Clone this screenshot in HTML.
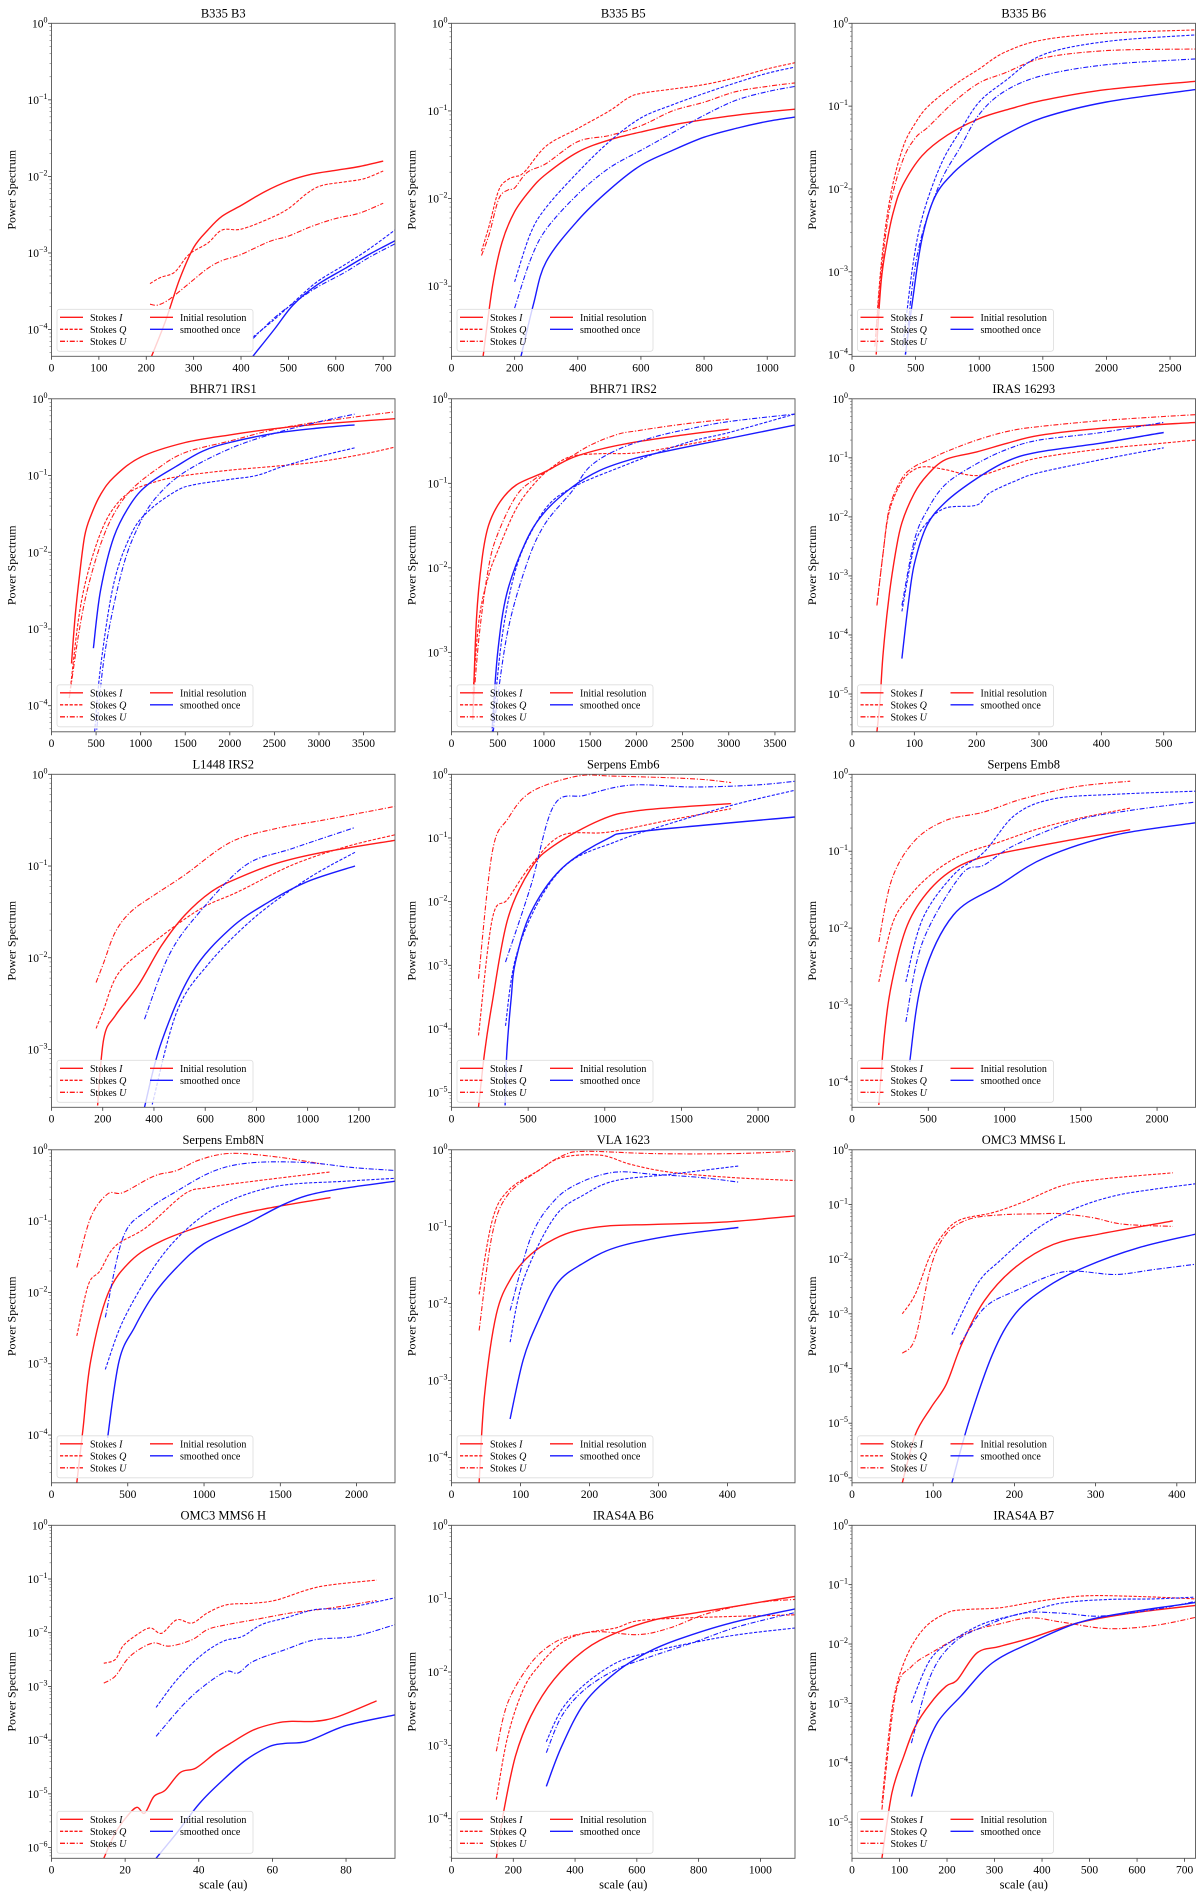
<!DOCTYPE html>
<html><head><meta charset="utf-8"><title>Power spectra</title>
<style>
html,body{margin:0;padding:0;background:#fff;}
svg{display:block;font-family:"Liberation Serif",serif;}
</style></head>
<body>
<svg id="fig" xmlns="http://www.w3.org/2000/svg" width="1200" height="1897" viewBox="0 0 1200 1897"></svg>
<script>
// ---- data: [scale (au), log10 power] ----
const titles = ["B335 B3","B335 B5","B335 B6","BHR71 IRS1","BHR71 IRS2","IRAS 16293","L1448 IRS2","Serpens Emb6","Serpens Emb8","Serpens Emb8N","VLA 1623","OMC3 MMS6 L","OMC3 MMS6 H","IRAS4A B6","IRAS4A B7"];
const xMaxes = [725,1088,2700,3853,3717,551,1341,2241,2252,2252,498,423,93.3,1112,723];
const yMinExp = [-4.35,-3.8,-4.02,-4.34,-3.94,-5.64,-3.63,-5.23,-4.33,-4.67,-4.33,-6.09,-6.2,-4.54,-5.61];
const xTickSteps = [100,200,500,500,500,100,200,500,500,500,100,100,20,200,100];

const p0_I=[[208,-4.4],[240,-3.9],[270,-3.35],[300,-2.93],[330,-2.7],[360,-2.52],[400,-2.38],[450,-2.2],[500,-2.06],[550,-1.97],[600,-1.92],[650,-1.87],[700,-1.8]];
const p0_Q=[[208,-3.4],[230,-3.32],[260,-3.25],[290,-3.02],[330,-2.87],[360,-2.7],[400,-2.69],[460,-2.55],[500,-2.42],[540,-2.22],[570,-2.12],[620,-2.07],[660,-2.03],[700,-1.93]];
const p0_U=[[208,-3.67],[225,-3.68],[250,-3.6],[290,-3.4],[330,-3.2],[360,-3.1],[400,-3.02],[460,-2.85],[500,-2.78],[550,-2.65],[600,-2.55],[650,-2.48],[700,-2.35]];
const p0_sI=[[425,-4.35],[470,-4.0],[510,-3.68],[560,-3.42],[620,-3.2],[670,-3.02],[725,-2.84]];
const p0_sQ=[[425,-4.1],[470,-3.87],[510,-3.65],[560,-3.38],[620,-3.15],[670,-2.95],[725,-2.7]];
const p0_sU=[[425,-4.12],[470,-3.85],[510,-3.66],[560,-3.45],[620,-3.25],[670,-3.06],[725,-2.88]];

const p1_I=[[100,-3.8],[130,-3.0],[160,-2.5],[200,-2.15],[250,-1.9],[300,-1.72],[400,-1.47],[500,-1.33],[600,-1.24],[700,-1.16],[800,-1.1],[900,-1.05],[1000,-1.01],[1088,-0.98]];
const p1_Q=[[95,-2.6],[120,-2.3],[150,-1.9],[180,-1.78],[200,-1.75],[230,-1.7],[300,-1.4],[400,-1.2],[500,-1.0],[560,-0.85],[600,-0.8],[700,-0.75],[800,-0.7],[900,-0.62],[1000,-0.52],[1088,-0.45]];
const p1_U=[[95,-2.65],[120,-2.4],[150,-2.0],[180,-1.9],[200,-1.88],[240,-1.7],[300,-1.6],[400,-1.35],[500,-1.28],[600,-1.17],[700,-1.0],[800,-0.9],[900,-0.78],[1000,-0.72],[1088,-0.68]];
const p1_sI=[[220,-3.8],[260,-3.2],[300,-2.72],[400,-2.25],[500,-1.9],[600,-1.62],[700,-1.45],[800,-1.3],[900,-1.2],[1000,-1.12],[1088,-1.07]];
const p1_sQ=[[200,-2.95],[250,-2.4],[300,-2.1],[400,-1.7],[500,-1.35],[600,-1.08],[700,-0.93],[800,-0.8],[900,-0.68],[1000,-0.57],[1088,-0.5]];
const p1_sU=[[200,-3.25],[250,-2.7],[300,-2.35],[400,-1.95],[500,-1.65],[600,-1.45],[700,-1.25],[800,-1.05],[900,-0.88],[1000,-0.78],[1088,-0.72]];

const p2_I=[[190,-4.0],[230,-3.1],[280,-2.6],[330,-2.25],[400,-1.95],[550,-1.6],[750,-1.35],[1000,-1.15],[1250,-1.03],[1500,-0.93],[2000,-0.8],[2700,-0.7]];
const p2_Q=[[180,-3.9],[230,-2.9],[300,-2.1],[400,-1.5],[500,-1.2],[600,-1.0],[800,-0.75],[1000,-0.55],[1200,-0.35],[1500,-0.2],[2000,-0.12],[2700,-0.08]];
const p2_U=[[180,-3.9],[230,-3.0],[300,-2.2],[400,-1.65],[500,-1.38],[600,-1.25],[800,-0.95],[1000,-0.72],[1200,-0.6],[1500,-0.42],[2000,-0.33],[2700,-0.31]];
const p2_sI=[[420,-4.0],[480,-3.3],[550,-2.6],[650,-2.1],[800,-1.8],[1000,-1.55],[1200,-1.35],[1500,-1.14],[2000,-0.95],[2700,-0.8]];
const p2_sQ=[[400,-3.9],[480,-2.9],[560,-2.3],[700,-1.7],[850,-1.3],[1000,-0.95],[1200,-0.7],[1500,-0.38],[2000,-0.22],[2700,-0.14]];
const p2_sU=[[420,-4.0],[480,-3.1],[560,-2.5],[700,-1.9],[850,-1.5],[1000,-1.1],[1200,-0.82],[1500,-0.63],[2000,-0.5],[2700,-0.43]];

const p3_I=[[224,-3.45],[260,-2.9],[300,-2.45],[370,-1.8],[450,-1.5],[550,-1.25],[700,-1.02],[1000,-0.76],[1500,-0.57],[2000,-0.47],[2500,-0.39],[3000,-0.33],[3853,-0.26]];
const p3_Q=[[200,-3.9],[300,-2.9],[400,-2.3],[550,-1.75],[700,-1.42],[900,-1.2],[1200,-1.07],[1500,-1.0],[2000,-0.93],[2500,-0.88],[3000,-0.82],[3500,-0.72],[3853,-0.63]];
const p3_U=[[200,-3.9],[300,-3.1],[400,-2.5],[550,-1.9],[700,-1.5],[900,-1.18],[1200,-0.9],[1500,-0.7],[2000,-0.55],[2500,-0.4],[3000,-0.3],[3853,-0.17]];
const p3_sI=[[470,-3.25],[550,-2.5],[700,-1.8],[900,-1.35],[1100,-1.1],[1400,-0.88],[1700,-0.68],[2000,-0.57],[2500,-0.45],[3000,-0.38],[3400,-0.34]];
const p3_sQ=[[480,-4.4],[550,-3.5],[700,-2.4],[900,-1.75],[1100,-1.45],[1400,-1.2],[1600,-1.12],[2000,-1.05],[2300,-1.0],[2600,-0.88],[3000,-0.75],[3400,-0.64]];
const p3_sU=[[500,-4.4],[600,-3.3],[800,-2.2],[1000,-1.6],[1200,-1.25],[1500,-0.95],[2000,-0.65],[2500,-0.45],[3000,-0.3],[3400,-0.2]];

const p4_I=[[230,-3.8],[270,-2.6],[330,-1.9],[400,-1.5],[525,-1.22],[700,-1.02],[1000,-0.87],[1300,-0.7],[1600,-0.6],[2000,-0.51],[2500,-0.43],[3000,-0.36]];
const p4_Q=[[230,-3.5],[300,-2.6],[400,-2.1],[500,-1.8],[700,-1.3],[900,-1.0],[1100,-0.8],[1300,-0.68],[1600,-0.65],[2000,-0.64],[2500,-0.55],[3000,-0.45]];
const p4_U=[[230,-3.7],[300,-2.8],[400,-2.0],[500,-1.6],[700,-1.15],[900,-0.95],[1200,-0.75],[1500,-0.55],[1800,-0.42],[2000,-0.38],[2500,-0.3],[3000,-0.24]];
const p4_sI=[[440,-3.9],[500,-3.0],[600,-2.3],[800,-1.7],[1000,-1.35],[1300,-1.05],[1600,-0.85],[2000,-0.7],[2500,-0.58],[3000,-0.47],[3717,-0.31]];
const p4_sQ=[[440,-3.95],[550,-2.8],[700,-2.0],[900,-1.5],[1100,-1.2],[1400,-1.0],[1800,-0.82],[2200,-0.65],[2600,-0.5],[3000,-0.4],[3717,-0.18]];
const p4_sU=[[450,-3.95],[600,-2.8],[800,-2.0],[1000,-1.5],[1300,-1.1],[1500,-0.8],[1800,-0.6],[2200,-0.45],[2600,-0.35],[3000,-0.27],[3717,-0.18]];

const p5_I=[[40,-5.64],[45,-5.1],[50,-4.3],[60,-3.3],[70,-2.6],[80,-2.1],[100,-1.6],[120,-1.3],[150,-1.03],[200,-0.9],[250,-0.75],[300,-0.62],[400,-0.5],[551,-0.4]];
const p5_Q=[[40,-3.5],[50,-2.6],[60,-1.9],[80,-1.4],[100,-1.2],[120,-1.15],[150,-1.2],[200,-1.3],[250,-1.15],[300,-1.0],[400,-0.85],[500,-0.75],[551,-0.7]];
const p5_U=[[40,-3.5],[50,-2.6],[60,-1.85],[80,-1.35],[100,-1.15],[120,-1.05],[150,-0.9],[200,-0.7],[250,-0.55],[300,-0.47],[400,-0.37],[500,-0.3],[551,-0.27]];
const p5_sI=[[80,-4.4],[90,-3.5],[100,-2.8],[120,-2.15],[150,-1.75],[200,-1.35],[250,-1.05],[300,-0.9],[400,-0.75],[500,-0.57]];
const p5_sQ=[[80,-3.6],[100,-2.5],[120,-2.1],[150,-1.85],[200,-1.8],[220,-1.6],[260,-1.4],[300,-1.25],[400,-1.03],[500,-0.83]];
const p5_sU=[[80,-3.5],[100,-2.4],[120,-1.9],[150,-1.45],[200,-1.1],[250,-0.85],[300,-0.7],[400,-0.57],[500,-0.4]];

const p6_I=[[180,-3.61],[204,-2.88],[249,-2.63],[339,-2.3],[429,-1.87],[519,-1.54],[624,-1.28],[729,-1.13],[879,-0.97],[1059,-0.85],[1341,-0.72]];
const p6_Q=[[174,-2.77],[204,-2.56],[264,-2.16],[399,-1.83],[579,-1.47],[729,-1.28],[939,-0.99],[1149,-0.79],[1341,-0.66]];
const p6_U=[[174,-2.27],[204,-2.05],[249,-1.72],[309,-1.5],[399,-1.32],[519,-1.1],[699,-0.74],[879,-0.59],[1059,-0.5],[1341,-0.35]];
const p6_sI=[[363,-3.63],[429,-2.92],[549,-2.16],[699,-1.68],[849,-1.39],[999,-1.17],[1185,-1.0]];
const p6_sQ=[[393,-3.6],[489,-2.59],[609,-2.08],[789,-1.57],[999,-1.14],[1185,-0.85]];
const p6_sU=[[363,-2.67],[459,-1.97],[579,-1.5],[759,-0.99],[939,-0.81],[1185,-0.58]];

const p7_I=[[176,-5.23],[216,-4.37],[266,-3.58],[367,-2.27],[518,-1.48],[668,-1.12],[970,-0.72],[1221,-0.57],[1824,-0.46]];
const p7_Q=[[176,-4.1],[266,-2.27],[367,-1.96],[518,-1.43],[719,-0.96],[1020,-0.91],[1422,-0.72],[1824,-0.54]];
const p7_U=[[176,-3.21],[266,-1.22],[367,-0.7],[518,-0.28],[819,-0.03],[1070,-0.03],[1573,-0.07],[1824,-0.13]];
const p7_sI=[[350,-5.2],[360,-4.4],[390,-3.5],[417,-2.95],[518,-2.17],[719,-1.48],[1020,-1.01],[1221,-0.9],[2241,-0.67]];
const p7_sQ=[[352,-3.95],[417,-2.9],[568,-2.0],[769,-1.38],[1070,-1.06],[1322,-0.85],[1824,-0.49],[2241,-0.25]];
const p7_sU=[[352,-2.95],[518,-1.75],[668,-0.49],[869,-0.33],[1171,-0.17],[1573,-0.2],[1975,-0.17],[2241,-0.11]];

const p8_I=[[176,-4.3],[212,-3.4],[262,-2.7],[363,-1.96],[514,-1.49],[715,-1.18],[967,-1.03],[1471,-0.84],[1824,-0.72]];
const p8_Q=[[176,-2.7],[262,-1.96],[363,-1.62],[514,-1.31],[715,-1.05],[967,-0.88],[1219,-0.71],[1471,-0.58],[1824,-0.44]];
const p8_U=[[176,-2.18],[262,-1.36],[413,-0.86],[615,-0.6],[866,-0.49],[1118,-0.32],[1471,-0.16],[1824,-0.09]];
const p8_sI=[[378,-3.74],[463,-2.66],[665,-1.83],[967,-1.44],[1270,-1.08],[1723,-0.79],[2252,-0.63]];
const p8_sQ=[[353,-2.7],[463,-1.88],[665,-1.31],[866,-1.01],[1068,-0.53],[1320,-0.32],[1723,-0.26],[2252,-0.22]];
const p8_sU=[[353,-3.22],[463,-2.18],[715,-1.31],[866,-1.18],[1068,-0.92],[1471,-0.6],[1824,-0.47],[2252,-0.36]];

const p9_I=[[166,-4.67],[207,-3.9],[257,-2.96],[368,-2.03],[519,-1.56],[720,-1.28],[1023,-1.04],[1325,-0.86],[1829,-0.67]];
const p9_Q=[[166,-2.61],[242,-1.89],[317,-1.7],[418,-1.35],[620,-1.09],[872,-0.62],[1023,-0.53],[1325,-0.44],[1829,-0.31]];
const p9_U=[[166,-1.65],[257,-0.95],[368,-0.62],[469,-0.6],[670,-0.37],[821,-0.29],[972,-0.14],[1174,-0.05],[1476,-0.1],[1778,-0.2]];
const p9_sI=[[368,-4.04],[443,-2.96],[544,-2.49],[670,-2.03],[821,-1.65],[997,-1.32],[1274,-1.04],[1677,-0.64],[2252,-0.44]];
const p9_sQ=[[353,-3.08],[469,-2.4],[670,-1.65],[872,-1.14],[1123,-0.76],[1476,-0.51],[1930,-0.44],[2252,-0.4]];
const p9_sU=[[353,-2.35],[469,-1.23],[620,-0.86],[821,-0.58],[1073,-0.29],[1325,-0.18],[1677,-0.18],[1980,-0.25],[2252,-0.29]];

const p10_I=[[40,-4.33],[48,-3.18],[65,-2.14],[87,-1.66],[115,-1.36],[149,-1.16],[182,-1.05],[227,-0.99],[294,-0.97],[394,-0.94],[498,-0.86]];
const p10_Q=[[40,-1.88],[59,-0.92],[82,-0.53],[126,-0.27],[160,-0.1],[216,-0.07],[260,-0.19],[316,-0.29],[406,-0.36],[498,-0.4]];
const p10_U=[[40,-2.35],[59,-1.1],[82,-0.58],[126,-0.27],[160,-0.08],[193,-0.02],[294,-0.05],[406,-0.05],[498,-0.02]];
const p10_sI=[[85,-3.5],[104,-2.73],[126,-2.22],[154,-1.73],[188,-1.49],[238,-1.27],[316,-1.12],[416,-1.01]];
const p10_sQ=[[85,-2.5],[104,-1.7],[149,-0.88],[193,-0.58],[238,-0.4],[316,-0.32],[416,-0.21]];
const p10_sU=[[85,-2.09],[115,-1.14],[149,-0.66],[188,-0.42],[238,-0.29],[294,-0.32],[361,-0.36],[416,-0.42]];

const p11_I=[[62,-6.09],[78,-5.21],[97,-4.72],[116,-4.29],[135,-3.56],[163,-2.76],[201,-2.15],[248,-1.73],[305,-1.54],[395,-1.3]];
const p11_Q=[[62,-3.0],[78,-2.64],[97,-1.91],[116,-1.48],[135,-1.27],[173,-1.15],[210,-0.96],[258,-0.66],[305,-0.54],[395,-0.42]];
const p11_U=[[62,-3.72],[78,-3.44],[97,-2.15],[116,-1.54],[144,-1.27],[182,-1.19],[230,-1.17],[258,-1.17],[296,-1.24],[334,-1.36],[395,-1.4]];
const p11_sI=[[123,-6.09],[144,-4.97],[173,-3.74],[201,-3.0],[239,-2.52],[286,-2.15],[353,-1.79],[424,-1.54]];
const p11_sQ=[[123,-3.38],[154,-2.46],[182,-2.03],[230,-1.42],[277,-1.06],[324,-0.84],[372,-0.72],[424,-0.62]];
const p11_sU=[[133,-3.56],[163,-2.89],[201,-2.58],[248,-2.28],[277,-2.22],[324,-2.28],[372,-2.19],[424,-2.09]];

const p12_I=[[14.2,-6.2],[17.3,-5.73],[20.5,-5.42],[23.2,-5.25],[25.3,-5.36],[27.8,-5.05],[30.9,-4.93],[35,-4.6],[39.2,-4.52],[44.5,-4.24],[48.6,-4.06],[54.9,-3.81],[61.2,-3.68],[65.3,-3.65],[71.6,-3.65],[77.9,-3.56],[88.3,-3.27]];
const p12_Q=[[14.2,-2.57],[17.3,-2.5],[19.4,-2.25],[22.5,-2.07],[26.7,-1.91],[29.9,-2.01],[34,-1.76],[38.2,-1.82],[42.4,-1.63],[47.6,-1.48],[54.9,-1.45],[61.2,-1.39],[69.5,-1.2],[75.8,-1.11],[88.3,-1.02]];
const p12_U=[[14.2,-2.94],[17.3,-2.81],[20.5,-2.5],[23.6,-2.32],[27.8,-2.19],[32,-2.25],[38.2,-2.13],[42.4,-1.94],[47.6,-1.85],[54.9,-1.76],[65.3,-1.63],[75.8,-1.54],[88.3,-1.4]];
const p12_sI=[[28.4,-6.2],[34,-5.73],[40.3,-5.17],[46.6,-4.74],[52.8,-4.37],[59.1,-4.12],[63.3,-4.06],[69.5,-4.02],[80,-3.73],[93.3,-3.53]];
const p12_sQ=[[28.4,-3.39],[34,-2.88],[40.3,-2.44],[46.6,-2.16],[51.8,-2.07],[57,-1.85],[63.3,-1.73],[71.6,-1.57],[80,-1.54],[93.3,-1.35]];
const p12_sU=[[28.4,-3.93],[36.2,-3.31],[42.4,-2.94],[47.6,-2.72],[50.7,-2.75],[54.9,-2.53],[63.3,-2.32],[71.6,-2.13],[82,-2.07],[93.3,-1.85]];

const p13_I=[[145,-4.54],[170,-3.88],[207,-3.15],[257,-2.6],[332,-2.1],[431,-1.7],[531,-1.47],[656,-1.29],[781,-1.2],[1112,-0.97]];
const p13_Q=[[145,-3.74],[182,-2.88],[232,-2.24],[282,-1.92],[357,-1.6],[431,-1.47],[531,-1.4],[606,-1.3],[781,-1.26],[1112,-1.22]];
const p13_U=[[145,-3.08],[182,-2.42],[257,-1.88],[332,-1.6],[406,-1.49],[481,-1.45],[606,-1.49],[706,-1.4],[831,-1.2],[980,-1.06],[1112,-1.01]];
const p13_sI=[[307,-3.56],[357,-3.01],[431,-2.42],[531,-2.01],[631,-1.74],[731,-1.56],[905,-1.33],[1112,-1.14]];
const p13_sQ=[[307,-2.95],[357,-2.51],[431,-2.17],[531,-1.88],[631,-1.74],[781,-1.6],[930,-1.49],[1112,-1.4]];
const p13_sU=[[307,-3.1],[357,-2.6],[431,-2.24],[531,-1.97],[631,-1.81],[781,-1.6],[930,-1.38],[1112,-1.19]];

const p14_I=[[63,-5.61],[84,-4.51],[109,-3.89],[133,-3.39],[165,-3.0],[198,-2.71],[222,-2.6],[263,-2.15],[311,-2.04],[376,-1.9],[473,-1.65],[587,-1.48],[724,-1.35]];
const p14_Q=[[63,-4.68],[84,-3.11],[109,-2.32],[149,-1.76],[198,-1.48],[238,-1.42],[311,-1.39],[392,-1.28],[489,-1.19],[603,-1.2],[724,-1.24]];
const p14_U=[[63,-4.79],[92,-2.83],[125,-2.38],[173,-2.12],[246,-1.8],[311,-1.66],[376,-1.56],[441,-1.63],[538,-1.74],[635,-1.69],[724,-1.55]];
const p14_sI=[[125,-4.57],[149,-3.89],[181,-3.31],[230,-2.87],[295,-2.32],[376,-1.98],[473,-1.65],[570,-1.48],[724,-1.3]];
const p14_sQ=[[125,-2.99],[165,-2.26],[214,-1.93],[279,-1.65],[360,-1.48],[441,-1.31],[538,-1.25],[635,-1.24],[724,-1.21]];
const p14_sU=[[125,-3.67],[165,-2.54],[214,-1.98],[279,-1.7],[360,-1.48],[441,-1.48],[522,-1.53],[635,-1.42],[724,-1.28]];

const panelSeries = [
 [p0_I,p0_Q,p0_U,p0_sI,p0_sQ,p0_sU],[p1_I,p1_Q,p1_U,p1_sI,p1_sQ,p1_sU],[p2_I,p2_Q,p2_U,p2_sI,p2_sQ,p2_sU],
 [p3_I,p3_Q,p3_U,p3_sI,p3_sQ,p3_sU],[p4_I,p4_Q,p4_U,p4_sI,p4_sQ,p4_sU],[p5_I,p5_Q,p5_U,p5_sI,p5_sQ,p5_sU],
 [p6_I,p6_Q,p6_U,p6_sI,p6_sQ,p6_sU],[p7_I,p7_Q,p7_U,p7_sI,p7_sQ,p7_sU],[p8_I,p8_Q,p8_U,p8_sI,p8_sQ,p8_sU],
 [p9_I,p9_Q,p9_U,p9_sI,p9_sQ,p9_sU],[p10_I,p10_Q,p10_U,p10_sI,p10_sQ,p10_sU],[p11_I,p11_Q,p11_U,p11_sI,p11_sQ,p11_sU],
 [p12_I,p12_Q,p12_U,p12_sI,p12_sQ,p12_sU],[p13_I,p13_Q,p13_U,p13_sI,p13_sQ,p13_sU],[p14_I,p14_Q,p14_U,p14_sI,p14_sQ,p14_sU]
];
const seriesNames = ["stokes-i-initial","stokes-q-initial","stokes-u-initial","stokes-i-smoothed","stokes-q-smoothed","stokes-u-smoothed"];

// ---- layout ----
const NS="http://www.w3.org/2000/svg";
const svg=document.getElementById('fig');
const colLeft=[51.5,451.5,852], W=343.5, H=333, rowTop=[23.3,398.8,774.3,1149.8,1525.3];
const RED="#ff1a1a", BLUE="#1a1aff";
const dashes=["", "3.2,1.6", "5,1.8,1.2,1.8"];
function mk(tag,attrs,parent){const e=document.createElementNS(NS,tag);for(const k in attrs)e.setAttribute(k,attrs[k]);(parent||svg).appendChild(e);return e;}
function smoothPath(P){
  if(P.length<3) return P.map((p,i)=>(i?'L':'M')+p[0].toFixed(1)+' '+p[1].toFixed(1)).join(' ');
  let d='M'+P[0][0].toFixed(1)+' '+P[0][1].toFixed(1);
  for(let i=0;i<P.length-1;i++){
    const p0=P[i-1]||P[i], p1=P[i], p2=P[i+1], p3=P[i+2]||P[i+1];
    const c1x=p1[0]+(p2[0]-p0[0])/6, c1y=p1[1]+(p2[1]-p0[1])/6;
    const c2x=p2[0]-(p3[0]-p1[0])/6, c2y=p2[1]-(p3[1]-p1[1])/6;
    d+=` C${c1x.toFixed(1)} ${c1y.toFixed(1)} ${c2x.toFixed(1)} ${c2y.toFixed(1)} ${p2[0].toFixed(1)} ${p2[1].toFixed(1)}`;
  }
  return d;
}

titles.forEach((title,pi)=>{
  const L=colLeft[pi%3], T=rowTop[Math.floor(pi/3)];
  const xmax=xMaxes[pi], ymin=yMinExp[pi];
  const sx=v=>L+v/xmax*W;
  const sy=e=>T+(e/ymin)*H;
  const g=mk('g',{});
  
  
  const cid='clip'+pi;
  const cp=mk('clipPath',{id:cid},g); mk('rect',{x:L,y:T,width:W,height:H},cp);
  const t=mk('text',{x:L+W/2,y:T-6,'text-anchor':'middle','font-size':'12.5'},g); t.textContent=title;
   
  const yl=mk('text',{x:0,y:0,'text-anchor':'middle','font-size':'12',transform:`translate(${L-36},${T+H/2}) rotate(-90)`},g);
  yl.textContent='Power Spectrum';
   
  const step=xTickSteps[pi];
  for(let v=0; v<=xmax+1e-9; v+=step){
    const x=sx(v);
    mk('line',{x1:x,x2:x,y1:T+H,y2:T+H+3.5,stroke:'#333','stroke-width':0.8},g);
    const tl=mk('text',{x:x,y:T+H+15,'text-anchor':'middle','font-size':'11.5'},g); tl.textContent=String(v);
     
  }
  if(Math.floor(pi/3)===4){
    const xl=mk('text',{x:L+W/2,y:T+H+30,'text-anchor':'middle','font-size':'12.5'},g); xl.textContent='scale (au)';
     
  }
  for(let d=0; d>=Math.floor(ymin); d--){
    const y=sy(d);
    if(d>=ymin-1e-9){
      mk('line',{x1:L-3.5,x2:L,y1:y,y2:y,stroke:'#333','stroke-width':0.8},g);
      const tl=mk('text',{x:L-4,y:y+4,'text-anchor':'end','font-size':'11.5'},g);
       
      const a=mk('tspan',{},tl); a.textContent='10';
      const b=mk('tspan',{dy:'-5','font-size':'8'},tl); b.textContent=d===0?'0':'\u2212'+(-d);
    }
    for(let m=2;m<=9;m++){
      const e=d-1+Math.log10(m);
      if(e<ymin||e>0) continue;
      const ym=sy(e);
      mk('line',{x1:L-2,x2:L,y1:ym,y2:ym,stroke:'#555','stroke-width':0.5},g);
    }
  }
  const sg=mk('g',{'clip-path':`url(#${cid})`},g);
  panelSeries[pi].forEach((pts,si)=>{
    const P=pts.map(p=>[sx(p[0]),sy(p[1])]);
    const path=mk('path',{d:smoothPath(P),fill:'none',stroke:si<3?RED:BLUE,'stroke-width':si%3===0?1.4:1.1,'stroke-dasharray':dashes[si%3]||'none'},sg);
    
    
  });
  mk('rect',{x:L,y:T,width:W,height:H,fill:'none',stroke:'#555','stroke-width':0.9},g);
  const lg=mk('g',{},g);
   
  const lx=L+5.5, ly=T+286;
  mk('rect',{x:lx,y:ly,width:196,height:42,rx:2.5,fill:'#fff','fill-opacity':0.8,stroke:'#ddd','stroke-width':0.8},lg);
  const entries=[["Stokes ","I",RED,0,0],["Stokes ","Q",RED,1,0],["Stokes ","U",RED,2,0],["Initial resolution","",RED,0,1],["smoothed once","",BLUE,1,1]];
  entries.forEach(en=>{
    const ex=lx+3+en[4]*90, ey=ly+8+en[3]*12;
    const ln=mk('line',{x1:ex,x2:ex+23,y1:ey,y2:ey,stroke:en[2],'stroke-width':1.3,'stroke-dasharray':en[4]?'none':(dashes[en[3]]||'none')},lg);
     
    const tx=mk('text',{x:ex+30,y:ey+3.5,'font-size':'10'},lg);
     
    const s1=mk('tspan',{},tx); s1.textContent=en[0];
    if(en[1]){const s2=mk('tspan',{'font-style':'italic'},tx); s2.textContent=en[1];}
  });
});
</script>
</body></html>
